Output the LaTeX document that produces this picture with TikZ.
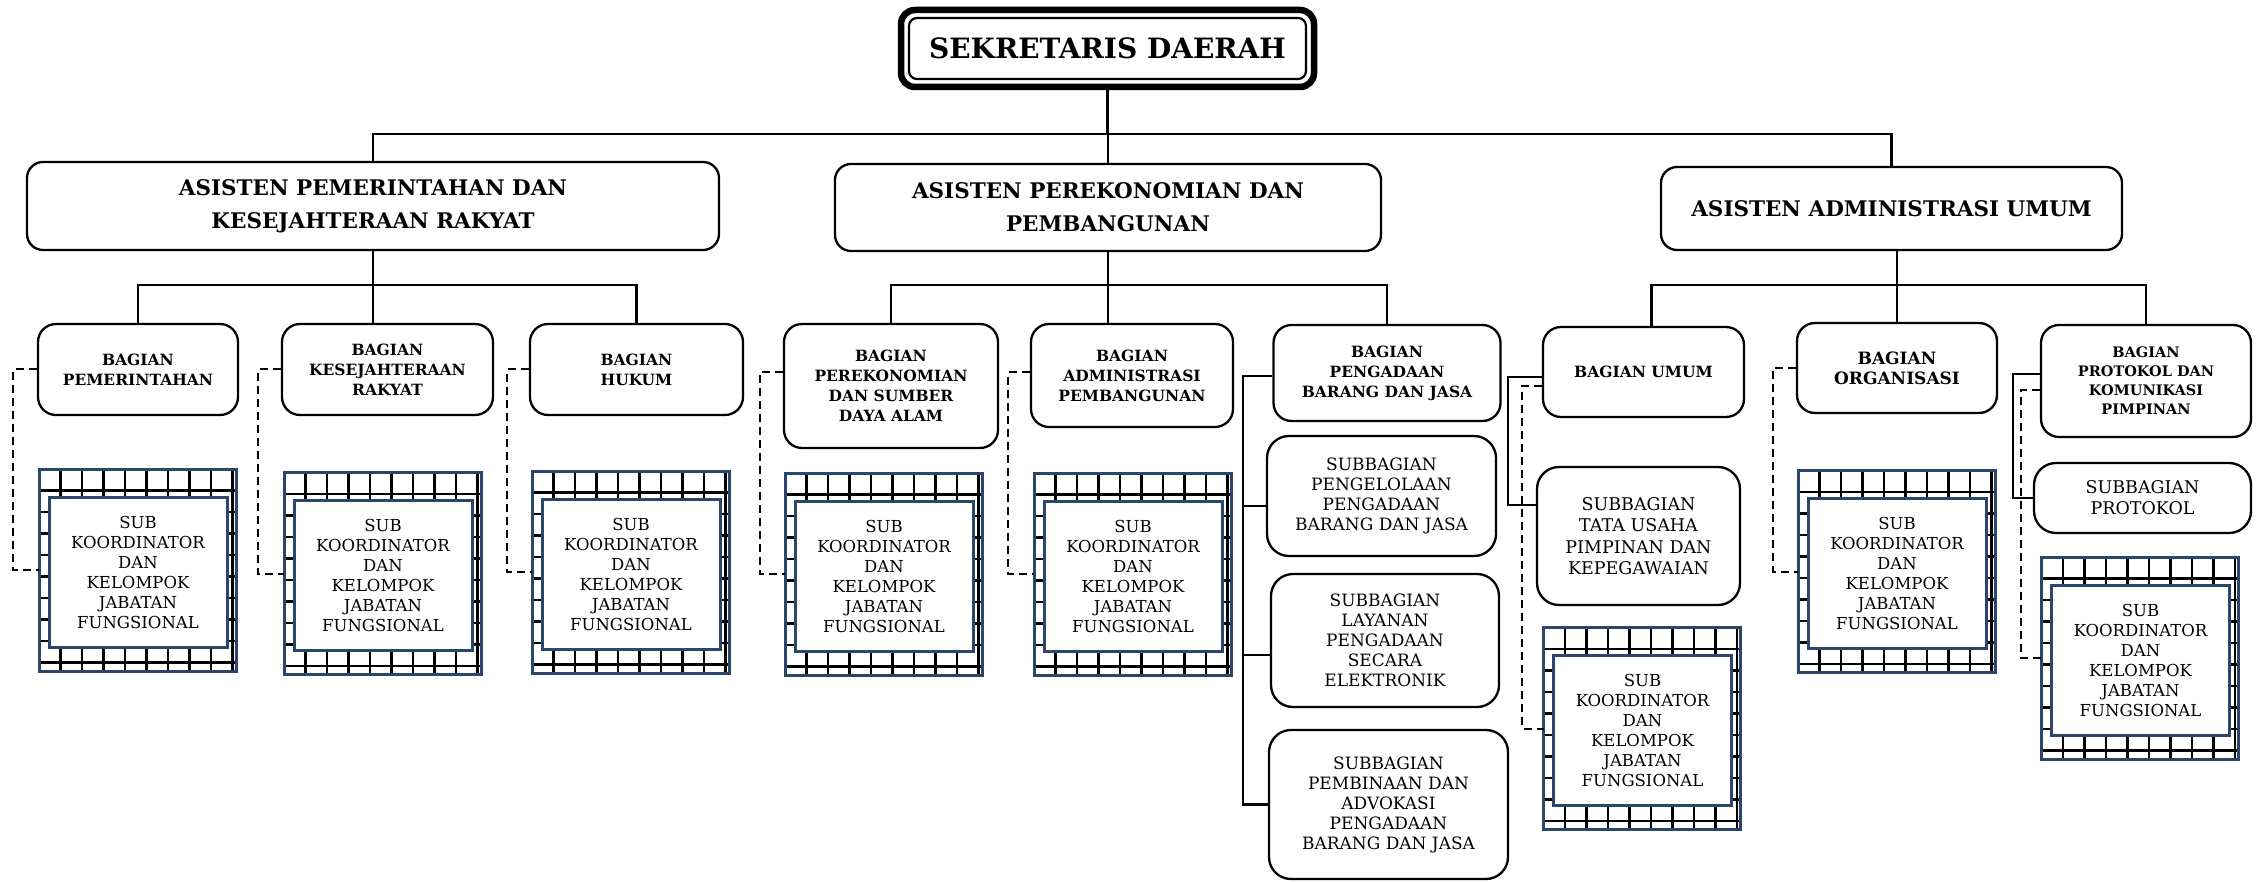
\documentclass[tikz,border=0pt]{standalone}
\usepackage{fontspec}
\setmainfont{DejaVu Serif}
\definecolor{navy}{HTML}{2B466A}
\tikzset{
  conn/.style={line width=2.3pt},
  dline/.style={line width=2pt, dash pattern=on 8pt off 5pt},
  box/.style={draw, line width=2.3pt, fill=white, align=center, inner sep=0pt},
  asis/.style={box, rounded corners=16pt, font=\fontsize{21.5}{33}\selectfont\bfseries},
  bag/.style={box, rounded corners=18pt, font=\fontsize{15.5}{20}\selectfont\bfseries},
  subb/.style={box, rounded corners=22pt, font=\fontsize{17}{20}\selectfont},
  skouter/.style={draw=navy, line width=3pt, fill=white, minimum width=197pt, minimum height=202pt, inner sep=0pt, outer sep=0pt},
  skinner/.style={draw=navy, line width=3pt, fill=white, minimum width=178pt, minimum height=150pt, inner sep=0pt, align=center, font=\fontsize{16.5}{20}\selectfont},
  gridl/.style={line width=2.6pt, black},
}
\newcommand\orgsk[3]{%
  \node[skouter] (#1) at (#2,#3) {};
  \begin{scope}
    \clip (#1.north west) rectangle (#1.south east);
    \foreach \gi in {1,...,9}{
      \draw[gridl] ([xshift=\gi*21.5pt]#1.north west) -- ([xshift=\gi*21.5pt]#1.south west);
      \draw[gridl] ([yshift=-\gi*21.5pt]#1.north west) -- ([yshift=-\gi*21.5pt]#1.north east);
    }
  \end{scope}
  \node[skinner] (#1in) at ([xshift=0.5pt,yshift=-2pt]#1.center) {SUB\\KOORDINATOR\\DAN\\KELOMPOK\\JABATAN\\FUNGSIONAL};
  \draw[draw=navy, line width=3pt] (#1.north west) rectangle (#1.south east);
}
\begin{document}
\begin{tikzpicture}[x=1pt,y=-1pt]
\fill[white] (0,0) rectangle (2260,882);
\useasboundingbox (0,0) rectangle (2260,882);

% Sekretaris
\node[draw, line width=6.5pt, rounded corners=14pt, minimum width=413pt, minimum height=77pt, inner sep=0pt, outer sep=0pt, fill=white, font=\fontsize{28}{33}\selectfont\bfseries] (sek) at (1107.5,48.5) {SEKRETARIS DAERAH};
\draw[line width=2.2pt, rounded corners=8pt] ([shift={(8,8)}]sek.north west) rectangle ([shift={(-8,-8)}]sek.south east);

% Asisten
\node[asis, minimum width=692pt, minimum height=88pt] (apk) at (373,206) {ASISTEN PEMERINTAHAN DAN\\KESEJAHTERAAN RAKYAT};
\node[asis, minimum width=546pt, minimum height=87pt] (app) at (1108,207.5) {ASISTEN PEREKONOMIAN DAN\\PEMBANGUNAN};
\node[asis, minimum width=461pt, minimum height=83pt] (aau) at (1891.5,208.5) {ASISTEN ADMINISTRASI UMUM};

% Bagian
\node[bag, minimum width=200pt, minimum height=91pt] (pem) at (138,369.5) {BAGIAN\\PEMERINTAHAN};
\node[bag, minimum width=211pt, minimum height=91pt] (kes) at (387.5,369.5) {BAGIAN\\KESEJAHTERAAN\\RAKYAT};
\node[bag, minimum width=213pt, minimum height=91pt] (huk) at (636.5,369.5) {BAGIAN\\HUKUM};
\node[bag, minimum width=214pt, minimum height=124pt] (per) at (891,386) {BAGIAN\\PEREKONOMIAN\\DAN SUMBER\\DAYA ALAM};
\node[bag, minimum width=202pt, minimum height=103pt] (adm) at (1132,375.5) {BAGIAN\\ADMINISTRASI\\PEMBANGUNAN};
\node[bag, minimum width=227pt, minimum height=96pt] (pbj) at (1387,373) {BAGIAN\\PENGADAAN\\BARANG DAN JASA};
\node[bag, minimum width=201pt, minimum height=90pt] (umum) at (1643.5,372) {BAGIAN UMUM};
\node[bag, minimum width=200pt, minimum height=90pt, font=\fontsize{17}{20}\selectfont\bfseries] (org) at (1897,368) {BAGIAN\\ORGANISASI};
\node[bag, minimum width=210pt, minimum height=112pt, font=\fontsize{14.5}{19}\selectfont\bfseries] (prot) at (2146,381) {BAGIAN\\PROTOKOL DAN\\KOMUNIKASI\\PIMPINAN};

% Subbagian
\node[subb, minimum width=229pt, minimum height=120pt] (sb1) at (1381.5,496) {SUBBAGIAN\\PENGELOLAAN\\PENGADAAN\\BARANG DAN JASA};
\node[subb, minimum width=228pt, minimum height=133pt] (sb2) at (1385,640.5) {SUBBAGIAN\\LAYANAN\\PENGADAAN\\SECARA\\ELEKTRONIK};
\node[subb, minimum width=239pt, minimum height=149pt] (sb3) at (1388.5,804.5) {SUBBAGIAN\\PEMBINAAN DAN\\ADVOKASI\\PENGADAAN\\BARANG DAN JASA};
\node[subb, minimum width=203pt, minimum height=138pt, font=\fontsize{17.5}{21.5}\selectfont] (tu) at (1638.5,536) {SUBBAGIAN\\TATA USAHA\\PIMPINAN DAN\\KEPEGAWAIAN};
\node[subb, minimum width=217pt, minimum height=70pt, font=\fontsize{17.5}{21}\selectfont] (sbp) at (2142.5,498) {SUBBAGIAN\\PROTOKOL};

% Sub koordinator boxes
\orgsk{skpem}{137.5}{570}
\orgsk{skkes}{382.5}{573.5}
\orgsk{skhuk}{630.5}{572}
\orgsk{skper}{883.5}{574}
\orgsk{skadm}{1132.5}{574}
\orgsk{skumum}{1642}{728.5}
\orgsk{skorg}{1896.5}{571.5}
\orgsk{skprot}{2140}{658}

% Solid connectors
\coordinate (t1) at (0,134);
\coordinate (t2) at (0,285);
\draw[conn] (sek.south) -- (sek.south |- t1);
\draw[conn] (apk.north) -- (apk.north |- t1) -| (aau.north);
\draw[conn] (app.north) -- (app.north |- t1);
\draw[conn] (apk.south) -- (apk.south |- kes.north);
\draw[conn] (pem.north) -- (pem.north |- t2) -| (huk.north);
\draw[conn] (app.south) -- (app.south |- adm.north);
\draw[conn] (per.north) -- (per.north |- t2) -| (pbj.north);
\draw[conn] (org.north) -- (org.north |- aau.south);
\coordinate (um1) at ([xshift=8pt]umum.north);
\draw[conn] (um1) -- (um1 |- t2) -| (prot.north);

\coordinate (tr) at (1243,0);
\coordinate (p0) at ([yshift=-3pt]pbj.west);
\coordinate (p1) at ([yshift=-10pt]sb1.west);
\coordinate (p2) at ([yshift=-14.5pt]sb2.west);
\draw[conn] (p0) -- (p0 -| tr) |- (sb3.west);
\draw[conn] (p1) -- (p1 -| tr);
\draw[conn] (p2) -- (p2 -| tr);

\coordinate (tux) at (1508,0);
\coordinate (u0) at ([yshift=-5pt]umum.west);
\coordinate (u1) at ([yshift=31pt]tu.west);
\draw[conn] (u0) -- (u0 -| tux) |- (u1);

\coordinate (prx) at (2013,0);
\coordinate (r0) at ([yshift=7pt]prot.west);
\draw[conn] (r0) -- (r0 -| prx) |- (sbp.west);

% Dashed connectors
\coordinate (dpem) at (13,0);
\coordinate (dkes) at (258,0);
\coordinate (dhuk) at (507,0);
\coordinate (dper) at (760,0);
\coordinate (dadm) at (1008,0);
\coordinate (dumum) at (1522,0);
\coordinate (dorg) at (1773,0);
\coordinate (dprot) at (2021,0);
\coordinate (qper) at ([yshift=14pt]per.west);
\coordinate (qadm) at ([yshift=3pt]adm.west);
\coordinate (qumum) at ([yshift=-14pt]umum.west);
\coordinate (qprot) at ([yshift=-9pt]prot.west);
\draw[dline] (pem.west) -- (pem.west -| dpem) |- (skpem.west);
\draw[dline] (kes.west) -- (kes.west -| dkes) |- (skkes.west);
\draw[dline] (huk.west) -- (huk.west -| dhuk) |- (skhuk.west);
\draw[dline] (qper) -- (qper -| dper) |- (skper.west);
\draw[dline] (qadm) -- (qadm -| dadm) |- (skadm.west);
\draw[dline] (qumum) -- (qumum -| dumum) |- (skumum.west);
\draw[dline] (org.west) -- (org.west -| dorg) |- (skorg.west);
\draw[dline] (qprot) -- (qprot -| dprot) |- (skprot.west);
\end{tikzpicture}
\end{document}
